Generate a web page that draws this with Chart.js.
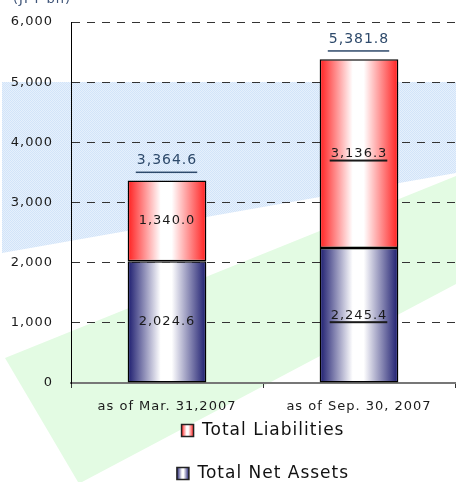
<!DOCTYPE html>
<html><head><meta charset="utf-8">
<script src="https://cdn.jsdelivr.net/npm/chart.js@4/dist/chart.umd.min.js"></script>
<style>html,body{margin:0;padding:0;background:#fff;overflow:hidden}</style>
</head><body>
<canvas id="c" width="456" height="482" style="display:block;width:456px;height:482px"></canvas>
<script>
// ---- data ----
const categories = ['as of Mar. 31,2007', 'as of Sep. 30, 2007'];
const seriesNames = ['Total Net Assets', 'Total Liabilities'];
const netAssets = [2024.6, 2245.4];
const liabilities = [1340.0, 3136.3];
const totals = [3364.6, 5381.8];
const yMin = 0, yMax = 6000, yStep = 1000;
const unitLabel = '(JPY bn)';

// ---- style ----
const FONT = '"DejaVu Sans", Verdana, sans-serif';
const BAR_PCT = 0.41;
const NAVY = '#1b1b6e';
const RED = '#ff1f1f';
const underlineInner = [false, true];

const fmt = v => v.toLocaleString('en-US', {minimumFractionDigits: 1, maximumFractionDigits: 1});

function makeGradient(c2d, x0, x1, edge) {
  const g = c2d.createLinearGradient(x0, 0, x1, 0);
  g.addColorStop(0, edge);
  g.addColorStop(0.42, '#ffffff');
  g.addColorStop(0.56, '#ffffff');
  g.addColorStop(1, edge);
  return g;
}

function barGradient(edge) {
  return (ctx) => {
    const chart = ctx.chart;
    const xs = chart.scales && chart.scales.x;
    if (!chart.chartArea || !xs || ctx.dataIndex === undefined || ctx.type !== 'data') return edge;
    const cx = xs.getPixelForValue(ctx.dataIndex);
    const w = xs.width / categories.length * BAR_PCT;
    return makeGradient(chart.ctx, cx - w / 2, cx + w / 2, edge);
  };
}

const spacingPlugin = {
  id: 'spacing',
  beforeUpdate(chart) { chart.ctx.letterSpacing = '1px'; },
  afterUpdate(chart) {
    const lg = chart.legend;
    if (!lg || !lg.legendItems || !lg.legendHitBoxes) return;
    lg.legendItems.forEach((it, i) => {
      const hb = lg.legendHitBoxes[i];
      if (!hb) return;
      it.fillStyle = makeGradient(chart.ctx, hb.left, hb.left + 12, it.datasetIndex === 1 ? RED : NAVY);
    });
  },
  beforeDraw(chart) { chart.ctx.letterSpacing = '1px'; }
};

const bgPlugin = {
  id: 'bgDecor',
  beforeDraw(chart) {
    const ctx = chart.ctx;
    ctx.save();
    const pc = document.createElement('canvas');
    pc.width = 2; pc.height = 2;
    const p = pc.getContext('2d');
    p.fillStyle = '#e6f0fc'; p.fillRect(0, 0, 2, 2);
    p.fillStyle = '#d2e4f9'; p.fillRect(0, 0, 1, 1); p.fillRect(1, 1, 1, 1);
    ctx.fillStyle = ctx.createPattern(pc, 'repeat');
    ctx.beginPath();
    ctx.moveTo(2, 82); ctx.lineTo(456, 82); ctx.lineTo(456, 173); ctx.lineTo(2, 253);
    ctx.closePath(); ctx.fill();
    ctx.fillStyle = '#e3fbe3';
    ctx.beginPath();
    ctx.moveTo(5, 358); ctx.lineTo(456, 176); ctx.lineTo(456, 284); ctx.lineTo(82, 482); ctx.lineTo(78, 482);
    ctx.closePath(); ctx.fill();
    ctx.fillStyle = '#3e5478';
    ctx.font = '13px ' + FONT;
    ctx.textAlign = 'left'; ctx.textBaseline = 'alphabetic';
    ctx.fillText(unitLabel, 13, 3);
    ctx.restore();
  }
};

const labelPlugin = {
  id: 'valueLabels',
  afterDatasetsDraw(chart) {
    const ctx = chart.ctx;
    ctx.save();
    ctx.textAlign = 'center'; ctx.textBaseline = 'middle';
    ctx.font = '13px ' + FONT;
    chart.data.datasets.forEach((ds, di) => {
      const meta = chart.getDatasetMeta(di);
      meta.data.forEach((bar, i) => {
        const y = (bar.y + bar.base) / 2;
        const txt = fmt(ds.data[i]);
        ctx.fillStyle = '#1a1a1a';
        ctx.fillText(txt, bar.x, y);
        if (underlineInner[i]) {
          const w = ctx.measureText(txt).width;
          ctx.fillRect(bar.x - w / 2 - 1, y + 6, w + 1, 2);
        }
      });
    });
    ctx.font = '14px ' + FONT;
    const ys = chart.scales.y;
    const meta = chart.getDatasetMeta(1);
    meta.data.forEach((bar, i) => {
      const top = ys.getPixelForValue(totals[i]);
      const txt = fmt(totals[i]);
      ctx.fillStyle = '#2e4a6b';
      ctx.fillText(txt, bar.x, top - 20);
      const w = ctx.measureText(txt).width;
      ctx.fillRect(bar.x - w / 2 - 1, top - 9, w + 1, 1.5);
    });
    ctx.restore();
  }
};

new Chart(document.getElementById('c'), {
  type: 'bar',
  data: {
    labels: categories,
    datasets: [
      { label: seriesNames[0], data: netAssets, backgroundColor: barGradient(NAVY),
        borderColor: '#000', borderWidth: 1.5, borderSkipped: false,
        barPercentage: BAR_PCT, categoryPercentage: 1 },
      { label: seriesNames[1], data: liabilities, backgroundColor: barGradient(RED),
        borderColor: '#000', borderWidth: 1.5, borderSkipped: false,
        barPercentage: BAR_PCT, categoryPercentage: 1 }
    ]
  },
  options: {
    responsive: false,
    animation: false,
    devicePixelRatio: 1,
    layout: { padding: { top: 22, right: 1, left: 0, bottom: -10 } },
    scales: {
      x: {
        stacked: true,
        afterFit: s => { s.height = 13; },
        grid: { drawOnChartArea: false, drawTicks: true, tickLength: 5, tickColor: '#333', color: '#333' },
        border: { color: '#777', width: 2 },
        ticks: { font: { family: FONT, size: 13 }, color: '#1a1a1a', mirror: true, padding: -31,
          maxRotation: 0, autoSkip: false }
      },
      y: {
        stacked: true,
        min: yMin, max: yMax,
        afterFit: s => { s.width = 71; s.paddingTop = 0; s.paddingBottom = 0; },
        grid: {
          drawTicks: false,
          color: c => (c.tick && c.tick.value === 0) ? 'rgba(0,0,0,0)' : '#333',
          lineWidth: 1
        },
        border: { color: '#000', width: 1, dash: [8, 7] },
        ticks: { stepSize: yStep, font: { family: FONT, size: 13 }, color: '#1a1a1a', padding: 18,
          callback: v => v.toLocaleString('en-US') }
      }
    },
    plugins: {
      tooltip: { enabled: false },
      legend: {
        position: 'bottom',
        fullSize: false,
        reverse: true,
        labels: {
          font: { family: FONT, size: 17 },
          color: '#111',
          boxWidth: 12, boxHeight: 12,
          padding: 26,
          generateLabels: (chart) => {
            const items = Chart.defaults.plugins.legend.labels.generateLabels(chart);
            items.forEach(it => {
              it.fillStyle = it.datasetIndex === 1 ? '#ffa0a0' : '#a0a0c8';
              it.strokeStyle = '#222';
              it.lineWidth = 1.5;
            });
            return items;
          }
        }
      }
    }
  },
  plugins: [spacingPlugin, bgPlugin, labelPlugin]
});
</script>
</body></html>
